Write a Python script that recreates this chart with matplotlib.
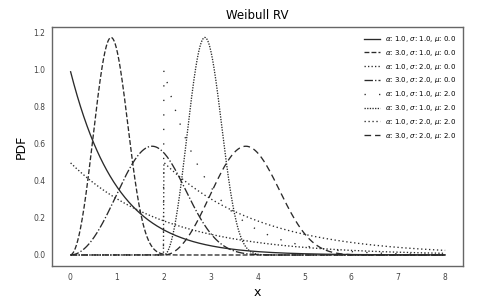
import numpy as np
import matplotlib.pyplot as plt

# Weibull parameters shown in the legend
alphas = [1.0, 3.0, 1.0, 3.0, 1.0, 3.0, 1.0, 3.0]
sigmas = [1.0, 1.0, 2.0, 2.0, 1.0, 1.0, 2.0, 2.0]
mus = [0.0, 0.0, 0.0, 0.0, 2.0, 2.0, 2.0, 2.0]
styles = ['-', '--', ':', '-.', (0, (1, 10)), (0, (1, 1)), (0, (1, 2)), (0, (5, 3))]

x = np.linspace(0.01, 8, 800)


def weibull_pdf(x, a, s, m):
    z = (x - m) / s
    out = np.zeros_like(x)
    ok = z >= 0
    out[ok] = (a / s) * z[ok] ** (a - 1) * np.exp(-z[ok] ** a)
    return out


fig = plt.figure(figsize=(4.78, 3.0), dpi=100)
ax = fig.add_axes([0.109, 0.113, 0.860, 0.797])

for a, s, m, ls in zip(alphas, sigmas, mus, styles):
    lab = r'$\alpha$: %.1f, $\sigma$: %.1f, $\mu$: %.1f' % (a, s, m)
    ax.plot(x, weibull_pdf(x, a, s, m), color='#2a2a2a', lw=0.95, ls=ls, label=lab)

ax.set_xlim(-0.385, 8.385)
ax.set_ylim(-0.06, 1.232)
ax.set_xticks(range(0, 9))
ax.set_yticks([0.0, 0.2, 0.4, 0.6, 0.8, 1.0, 1.2])
ax.tick_params(length=0, labelsize=5.5, colors='#444444', pad=5)
for sp in ax.spines.values():
    sp.set_color('#666666')
    sp.set_linewidth(1.0)

ax.set_title('Weibull RV', fontsize=8.5, pad=6)
ax.set_xlabel('x', fontsize=9, labelpad=3)
ax.set_ylabel('PDF', fontsize=9, labelpad=4)
ax.legend(loc='upper right', frameon=False, fontsize=5, handlelength=2.2,
          labelspacing=0.55, borderaxespad=0.6)

fig.savefig('out.png', dpi=100)
